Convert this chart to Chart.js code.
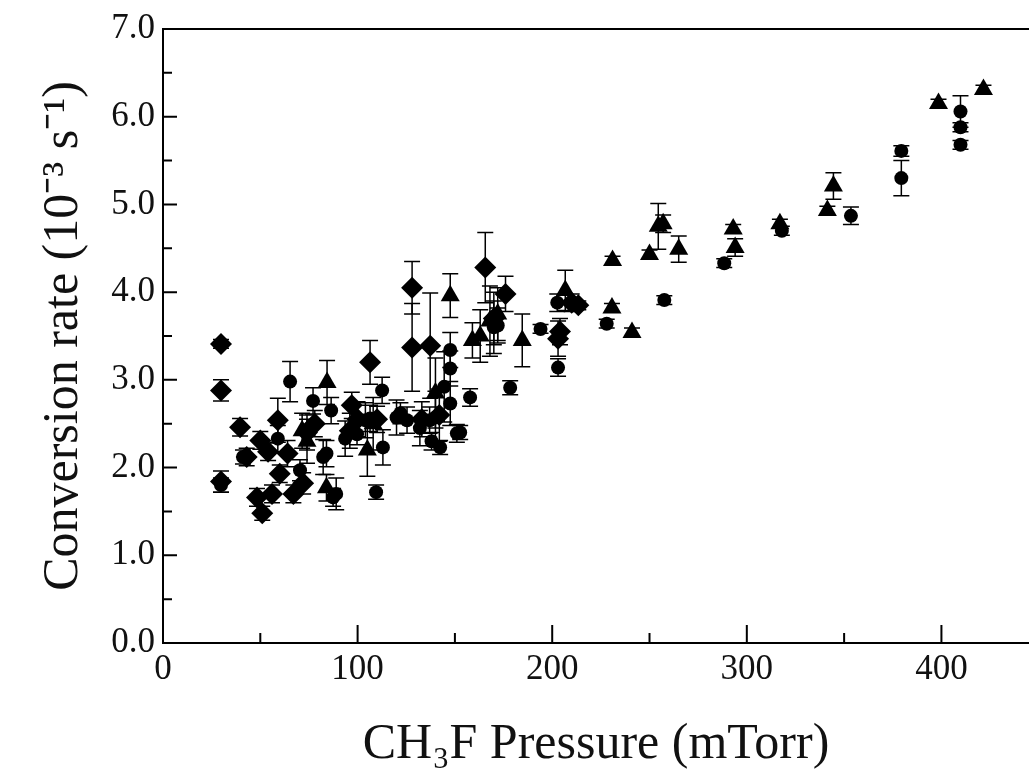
<!DOCTYPE html>
<html>
<head>
<meta charset="utf-8">
<script src="https://cdn.jsdelivr.net/npm/chart.js@4.4.1/dist/chart.umd.min.js"></script>
<style>
  html, body { margin: 0; padding: 0; background: #fff; }
  #chart { display: block; }
</style>
</head>
<body>
<canvas id="chart" width="1029" height="777"></canvas>
<script>
// Círculos
const circuloX = [29.8, 41.1, 59.0, 65.3, 70.4, 77.1, 82.3, 84.0, 86.4, 87.4, 89.0, 93.6, 99.7, 104.0, 106.4,
  109.5, 112.6, 113.0, 120.0, 122.0, 125.4, 132.0, 137.0, 138.0, 140.0, 142.4, 144.5, 147.6, 147.6, 147.6,
  151.0, 152.7, 157.8, 170.0, 172.0, 178.4, 194.0, 203.0, 202.6, 228.0, 257.6, 288.4, 318.0, 353.5,
  379.4, 379.4, 409.8, 409.8, 409.8];
const circuloY = [1.80, 2.12, 2.33, 2.98, 1.97, 2.76, 2.12, 2.16, 2.65, 1.66, 1.70, 2.33, 2.38, 2.54, 2.56,
  1.72, 2.88, 2.23, 2.57, 2.62, 2.54, 2.45, 2.54, 2.30, 2.57, 2.23, 2.92, 2.73, 3.13, 3.34,
  2.39, 2.40, 2.80, 3.60, 3.62, 2.91, 3.58, 3.14, 3.88, 3.64, 3.91, 4.33, 4.70, 4.87,
  5.61, 5.30, 6.06, 5.88, 5.68];
const circuloErr = [0.08, 0.08, 0.15, 0.23, 0.12, 0.15, 0.20, 0.15, 0.15, 0.10, 0.18, 0.20, 0.12, 0.20, 0.15,
  0.08, 0.15, 0.20, 0.20, 0.12, 0.15, 0.20, 0.15, 0.10, 0.30, 0.08, 0.40, 0.25, 0.20, 0.20,
  0.10, 0.08, 0.10, 0.30, 0.20, 0.08, 0.05, 0.10, 0.10, 0.05, 0.05, 0.05, 0.05, 0.10,
  0.06, 0.20, 0.18, 0.05, 0.05];

// Rombos
const romboX = [29.8, 29.8, 29.8, 39.6, 43.0, 48.3, 50.0, 51.0, 54.0, 56.0, 59.0, 60.0, 64.0, 67.0, 72.0,
  74.0, 78.0, 96.0, 97.0, 100.0, 106.4, 110.0, 128.0, 128.0, 133.0, 137.3, 142.0, 165.6, 170.0, 176.0,
  203.0, 204.0, 210.0, 213.4];
const romboY = [3.41, 2.88, 1.84, 2.46, 2.12, 1.66, 2.31, 1.48, 2.18, 1.70, 2.54, 1.93, 2.16, 1.70, 1.82,
  2.40, 2.50, 2.42, 2.71, 2.55, 3.20, 2.55, 4.05, 3.37, 2.55, 3.39, 2.60, 4.28, 3.70, 3.98,
  3.47, 3.55, 3.88, 3.85];
const romboErr = [0.05, 0.12, 0.12, 0.10, 0.10, 0.10, 0.10, 0.08, 0.10, 0.10, 0.25, 0.10, 0.15, 0.10, 0.12,
  0.20, 0.15, 0.20, 0.15, 0.20, 0.25, 0.15, 0.30, 0.50, 0.20, 0.60, 0.30, 0.40, 0.30, 0.20,
  0.20, 0.15, 0.10, 0.05];

// Triángulos
const trianguloX = [71.5, 74.0, 84.3, 84.0, 105.0, 108.0, 140.0, 147.6, 159.0, 163.0, 168.0, 172.0, 184.6,
  206.7, 230.7, 231.0, 241.0, 250.0, 254.5, 257.0, 265.0, 293.0, 294.0, 317.0, 341.4, 344.5, 398.5, 421.6];
const trianguloY = [2.42, 2.30, 2.97, 1.77, 2.20, 2.50, 2.85, 3.96, 3.45, 3.50, 3.67, 3.75, 3.45,
  4.02, 3.82, 4.36, 3.54, 4.43, 4.75, 4.78, 4.49, 4.72, 4.51, 4.78, 4.93, 5.21, 6.15, 6.31];
const trianguloErr = [0.20, 0.25, 0.25, 0.15, 0.30, 0.30, 0.40, 0.25, 0.20, 0.30, 0.40, 0.30, 0.30,
  0.23, 0.05, 0.05, 0.05, 0.05, 0.26, 0.10, 0.15, 0.05, 0.10, 0.05, 0.05, 0.15, 0.05, 0.05];

const xMin = 0, xMax = 445, xPaso = 100, xPasoMenor = 50;
const yMin = 0, yMax = 7, yPaso = 1, yPasoMenor = 0.5;

const fuente = "'Liberation Serif', 'Times New Roman', serif";

function armarPuntos(xs, ys) {
  return xs.map((x, i) => ({ x: x, y: ys[i] }));
}

const barrasError = {
  id: "barrasError",
  beforeDatasetsDraw(chart) {
    const { ctx, scales: { x, y } } = chart;
    ctx.save();
    ctx.strokeStyle = "#000";
    ctx.lineWidth = 1.5;
    chart.data.datasets.forEach(ds => {
      ds.data.forEach((p, i) => {
        const e = ds.errores[i];
        if (!e) return;
        const px = x.getPixelForValue(p.x);
        const arriba = y.getPixelForValue(p.y + e);
        const abajo = y.getPixelForValue(p.y - e);
        ctx.beginPath();
        ctx.moveTo(px, arriba); ctx.lineTo(px, abajo);
        ctx.moveTo(px - 8, arriba); ctx.lineTo(px + 8, arriba);
        ctx.moveTo(px - 8, abajo); ctx.lineTo(px + 8, abajo);
        ctx.stroke();
      });
    });
    ctx.restore();
  }
};

// marco superior y marcas hacia adentro
const marco = {
  id: "marco",
  afterDraw(chart) {
    const { ctx, chartArea: a, scales: { x, y } } = chart;
    ctx.save();
    ctx.strokeStyle = "#000";
    ctx.lineWidth = 2;
    ctx.beginPath();
    ctx.moveTo(a.left, a.top); ctx.lineTo(a.right, a.top);
    for (let v = xMin; v <= xMax; v += xPasoMenor) {
      const px = x.getPixelForValue(v);
      const largo = v % xPaso === 0 ? 18 : 10;
      ctx.moveTo(px, a.bottom); ctx.lineTo(px, a.bottom - largo);
    }
    for (let k = 0; k <= (yMax - yMin) / yPasoMenor; k++) {
      const v = yMin + k * yPasoMenor;
      const py = y.getPixelForValue(v);
      const largo = k % 2 === 0 ? 14 : 9;
      ctx.moveTo(a.left, py); ctx.lineTo(a.left + largo, py);
    }
    ctx.stroke();
    ctx.restore();
  }
};

new Chart(document.getElementById("chart"), {
  type: "scatter",
  data: {
    datasets: [
      {
        label: "círculos",
        data: armarPuntos(circuloX, circuloY),
        errores: circuloErr,
        pointStyle: "circle",
        pointRadius: 7,
        backgroundColor: "#000",
        borderColor: "#000",
        borderWidth: 0
      },
      {
        label: "rombos",
        data: armarPuntos(romboX, romboY),
        errores: romboErr,
        pointStyle: "rectRot",
        pointRadius: 11,
        backgroundColor: "#000",
        borderColor: "#000",
        borderWidth: 0
      },
      {
        label: "triángulos",
        data: armarPuntos(trianguloX, trianguloY),
        errores: trianguloErr,
        pointStyle: "triangle",
        pointRadius: 11,
        backgroundColor: "#000",
        borderColor: "#000",
        borderWidth: 0
      }
    ]
  },
  options: {
    responsive: false,
    animation: false,
    devicePixelRatio: 1,
    layout: { autoPadding: false, padding: { top: 28, right: 0, left: 0, bottom: 0 } },
    plugins: { legend: { display: false }, tooltip: { enabled: false } },
    scales: {
      x: {
        type: "linear",
        min: xMin,
        max: xMax,
        afterFit(scale) { scale.height = 134; scale.paddingRight = 0; },
        grid: { display: false, drawTicks: false },
        border: { color: "#000", width: 2 },
        ticks: {
          stepSize: xPaso,
          includeBounds: false,
          padding: 6,
          color: "#111",
          font: { family: fuente, size: 35 },
          maxRotation: 0
        },
        title: {
          display: true,
          text: "CH₃F Pressure (mTorr)",
          color: "#111",
          font: { family: fuente, size: 50 },
          padding: { top: 0, bottom: 2 }
        }
      },
      y: {
        type: "linear",
        min: yMin,
        max: yMax,
        afterFit(scale) { scale.width = 163; },
        grid: { display: false, drawTicks: false },
        border: { color: "#000", width: 2 },
        ticks: {
          stepSize: yPaso,
          padding: 8,
          color: "#111",
          font: { family: fuente, size: 35 },
          callback: v => v.toFixed(1)
        },
        title: {
          display: true,
          text: "Conversion rate (10⁻³ s⁻¹)",
          color: "#111",
          font: { family: fuente, size: 50 },
          padding: { top: 34, bottom: 0 }
        }
      }
    }
  },
  plugins: [barrasError, marco]
});
</script>
</body>
</html>
